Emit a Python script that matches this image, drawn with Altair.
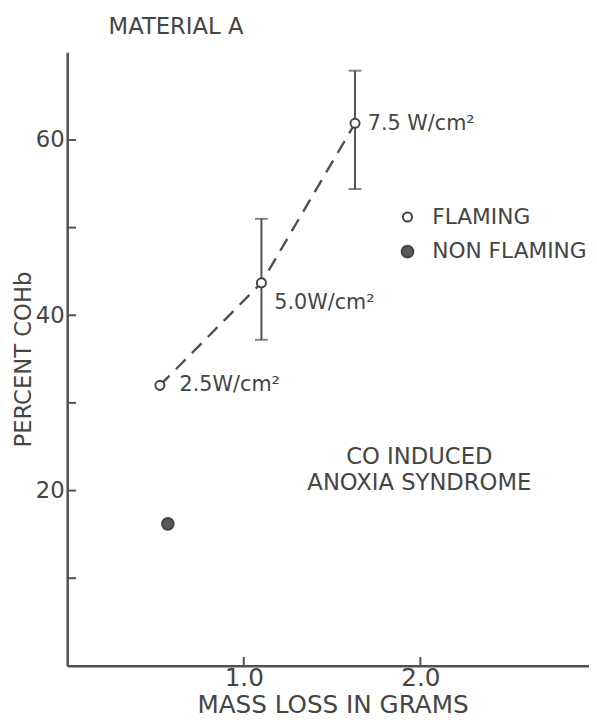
import altair as alt
import pandas as pd

# ---- data ----
mass_loss = [0.525, 1.10, 1.63, 0.57]
percent_cohb = [32.0, 43.7, 61.9, 16.2]
condition = ["FLAMING", "FLAMING", "FLAMING", "NON FLAMING"]
flux_label = ["2.5W/cm²", "5.0W/cm²", "7.5 W/cm²", ""]
err_low = [None, 37.2, 54.4, None]
err_high = [None, 51.0, 67.9, None]

y_tick_values = [10, 20, 30, 40, 50, 60]
y_label_values = [20, 40, 60]
x_tick_values = [1.0, 2.0]
conditions = ["FLAMING", "NON FLAMING"]

FONT = "DejaVu Sans"
INK = "#454545"
LINE = "#505050"
W, H = 529, 622

df = pd.DataFrame({
    "mass": mass_loss, "cohb": percent_cohb, "condition": condition,
    "label": flux_label, "lo": err_low, "hi": err_high,
})
yt = pd.DataFrame({"v": y_tick_values})
xt = pd.DataFrame({"v": x_tick_values})

XS = alt.Scale(domain=[0, 2.955], nice=False, zero=False)
YS = alt.Scale(domain=[0, 70], nice=False, zero=False)
XAX = alt.Axis(values=x_tick_values, format=".1f", ticks=False, grid=False,
               labelFontSize=25, labelFont=FONT, labelColor=INK, labelPadding=0,
               domainColor=LINE, domainWidth=2.5,
               titleFont=FONT, titleFontSize=25, titleColor=INK, titleFontWeight="normal",
               titleX=269, titleY=47, titleAlign="center", titleBaseline="alphabetic")
YAX = alt.Axis(values=y_label_values, ticks=False, grid=False,
               labelFontSize=23, labelFont=FONT, labelColor=INK, labelPadding=3,
               domainColor=LINE, domainWidth=2.5,
               titleFont=FONT, titleFontSize=23, titleColor=INK, titleFontWeight="normal",
               titleX=-37, titleY=311, titleAngle=270, titleAlign="center",
               titleBaseline="alphabetic")
XT = "MASS LOSS IN GRAMS"
YT = "PERCENT COHb"


def xe(f):
    return alt.X(f, type="quantitative", scale=XS, axis=XAX, title=XT)


def ye(f):
    return alt.Y(f, type="quantitative", scale=YS, axis=YAX, title=YT)


flaming = alt.datum.condition == "FLAMING"
base = alt.Chart(df)

ytick_layer = alt.Chart(yt).mark_rule(color=LINE, strokeWidth=2).encode(
    y=ye("v"), x=alt.value(0), x2=alt.value(9))
xtick_layer = alt.Chart(xt).mark_rule(color=LINE, strokeWidth=2).encode(
    x=xe("v"), y=alt.value(H), y2=alt.value(H - 9))

line = base.transform_filter(flaming).mark_line(
    color=LINE, strokeWidth=2.4, strokeDash=[14, 9]).encode(
    x=xe("mass"), y=ye("cohb"), order="mass:Q")

err = base.transform_filter("isValid(datum.lo)").mark_rule(
    color=LINE, strokeWidth=2).encode(x=xe("mass"), y=ye("lo"), y2="hi:Q")
cap_lo = base.transform_filter("isValid(datum.lo)").mark_tick(
    color=LINE, orient="horizontal", size=13, thickness=2).encode(
    x=xe("mass"), y=ye("lo"))
cap_hi = base.transform_filter("isValid(datum.hi)").mark_tick(
    color=LINE, orient="horizontal", size=13, thickness=2).encode(
    x=xe("mass"), y=ye("hi"))

leg = alt.Legend(title=None, orient="none", legendX=334, legendY=156,
                 labelFont=FONT, labelFontSize=22, labelColor=INK, labelOffset=14,
                 labelLimit=400, rowPadding=13, padding=0, symbolType="circle",
                 symbolStrokeWidth=2, symbolOpacity=1)
points = base.mark_circle(strokeWidth=2, opacity=1).encode(
    x=xe("mass"), y=ye("cohb"),
    fill=alt.Fill("condition:N", scale=alt.Scale(domain=conditions, range=["white", "#585858"]), legend=leg),
    stroke=alt.Stroke("condition:N", scale=alt.Scale(domain=conditions, range=[INK, INK]), legend=leg),
    size=alt.Size("condition:N", scale=alt.Scale(domain=conditions, range=[85, 140]), legend=leg),
)


def lab(idx, dx, dy):
    return base.transform_filter(alt.datum.label == flux_label[idx]).mark_text(
        align="left", baseline="middle", dx=dx, dy=dy, font=FONT, fontSize=21, color=INK
    ).encode(x=xe("mass"), y=ye("cohb"), text="label:N")


labels = lab(0, 20, 0) + lab(1, 13, 21) + lab(2, 13, 1)

note = alt.Chart(pd.DataFrame({"t": ["CO INDUCED\nANOXIA SYNDROME"]})).mark_text(
    align="center", baseline="alphabetic", lineBreak="\n", lineHeight=27,
    font=FONT, fontSize=23, color=INK).encode(
    text="t:N", x=alt.value(357), y=alt.value(417))

title = alt.Chart(pd.DataFrame({"t": ["MATERIAL A"]})).mark_text(
    align="left", baseline="alphabetic", font=FONT, fontSize=23, color=INK).encode(
    text="t:N", x=alt.value(42), y=alt.value(-19))

chart = alt.layer(ytick_layer, xtick_layer, line, err, cap_lo, cap_hi, points, labels, note, title).properties(
    width=W, height=H,
    padding={"left": 60, "top": 40, "right": 0, "bottom": 51},
    autosize=alt.AutoSizeParams(type="none"),
    background="white",
).configure_view(stroke=None)

chart.save("out.html", embed_options={"renderer": "svg", "actions": False})
